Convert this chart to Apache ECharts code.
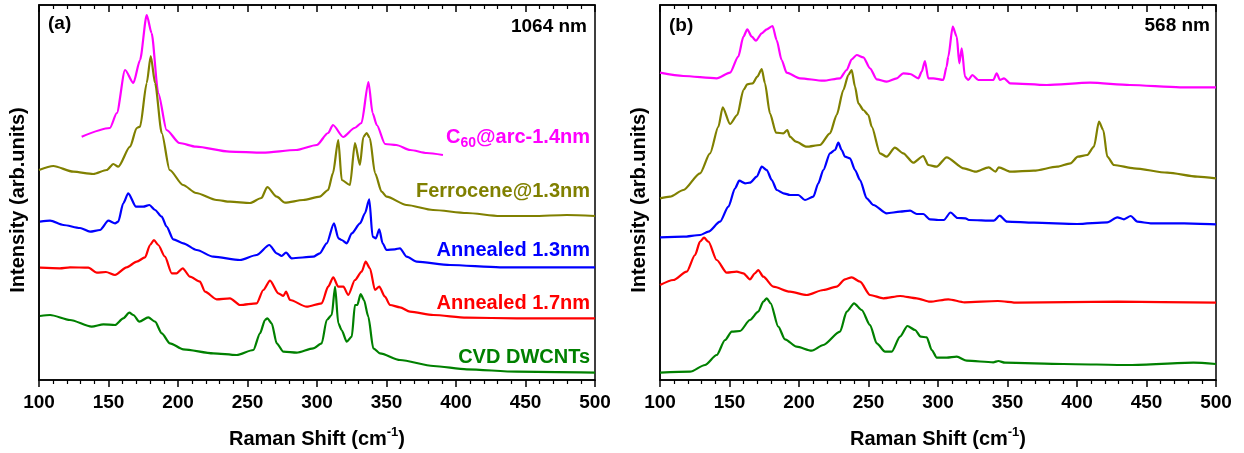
<!DOCTYPE html>
<html>
<head>
<meta charset="utf-8">
<script src="https://cdn.jsdelivr.net/npm/echarts@6/dist/echarts.min.js"></script>
<style>
html,body{margin:0;padding:0;background:#fff;overflow:hidden;}
#chart{width:1244px;height:453px;}
</style>
</head>
<body>
<div id="chart"></div>
<script>
// Raman shift (cm^-1) vs. offset intensity (arb. units)
const xTicks = [100, 150, 200, 250, 300, 350, 400, 450, 500];

// Panel (a) 1064 nm
const a_C60 = [[130.7,243.3],[151,252],[156,267],[161.9,310],[167.9,297],[172.7,320],[177.5,365],[181,347],[185.8,287],[191.8,250],[201,237],[213,233.3],[237,228.3],[261,227.3],[285,230],[299.8,235],[308,247],[311.5,255],[318.8,243],[327,252],[332,257],[337,298],[340,267],[343,255],[349,236],[357,235],[367,230],[379,227],[390.6,225]];
const a_Ferro = [[100,210],[110.3,214],[124.7,208.3],[139,206],[148.7,210],[153.5,216],[157,213.3],[165.5,233.3],[170.3,252],[172.7,253.3],[177.5,297],[180.4,324],[183.5,297],[188.3,247],[194,210],[203.6,195],[213,187],[227.8,180],[237.4,178.3],[251.8,177],[260,182],[264.2,193],[271,183.3],[277,177.3],[290,180],[302,183.3],[308,190],[311.5,207],[315.3,240],[317.8,200],[323.7,195],[327.3,237],[330.9,215],[333.3,243],[335.7,247],[338,242],[341.7,207],[346.5,188.3],[350,183.3],[364.5,175],[383.5,170],[407.7,167],[431.6,164],[455.4,164],[479.6,165],[500,164]];
const a_Ann13 = [[100.7,158.3],[108,159.3],[117.5,155],[129.5,152],[136.7,148.3],[143.9,150],[149.9,159.3],[154.7,156.7],[157,158.3],[160.6,176.7],[164.2,186.7],[169.8,173.3],[175,173.3],[179.4,175],[183.5,170],[188.3,163.3],[191.8,153.3],[196.6,140.7],[203.8,136.7],[213.4,130],[225.4,123.3],[244.6,120],[256.6,125],[265.7,135],[271,126.7],[274.6,124],[277.7,127.3],[281.8,121.7],[297.3,123.3],[302,126.7],[307,136.7],[312.2,156.7],[315.4,141.7],[317.7,140],[321.4,136.7],[325,146.7],[331,156.7],[334.5,166.7],[337.6,180.7],[340,143.3],[342.4,141.7],[344.8,150.7],[347.2,136.7],[350,130],[356,130.7],[359.7,131.7],[364.5,123.3],[371.7,118.3],[395.7,115],[431.6,112.7],[467.6,112.7],[500,112.7]];
const a_Ann17 = [[100.7,112.3],[115,111.7],[122.3,112.7],[135.5,112.3],[141.5,107.3],[148.2,108],[154.7,105],[163,112.7],[170.3,118.3],[176.3,122.7],[179.9,135],[182.7,140],[185.8,135],[190.6,123.3],[195.5,106.7],[199,106.7],[203.4,111.7],[208.6,103.3],[215.8,98.3],[219.4,88.3],[227.8,80.7],[237.4,81.7],[244.6,75],[256.6,76.7],[261.4,90],[266.2,99.3],[272.2,86.7],[275.8,84],[277.7,88.3],[280.6,80],[292.6,73.3],[303.4,76.7],[308,93.3],[311.7,102.7],[315.3,93.3],[319,93.3],[322.5,85],[327.3,100],[332.1,108.3],[335,118.3],[338.1,111.7],[341.7,90],[344.8,93.3],[348.9,83.3],[352.5,75],[359.7,72.7],[366.9,68.3],[383.7,65],[407.7,62.3],[443.7,61.7],[500,61.7]];
const a_CVD = [[100.7,64],[108,65],[122.3,60],[137.9,53.3],[146.3,55.7],[154.7,55],[160.6,61.7],[165,67.3],[167.9,65],[172.2,58.3],[178.6,62.7],[183.5,58.3],[188.3,46.7],[194.2,36.7],[203.8,30.7],[225.4,26.7],[242.2,25],[254.2,30],[259,46.7],[262.6,60],[264.3,61.7],[267.4,56.7],[271,36.7],[275.8,28.3],[285.4,27.3],[297.3,31.7],[303.4,36.7],[307,60],[310.6,65],[313,93.3],[315.3,56.7],[317.7,50],[321.4,38.3],[325,43.3],[327.3,75],[329,75],[331.4,86],[333.8,80],[336.9,63.3],[340.5,31.7],[345.3,26.7],[359.7,20],[383.7,14],[407.7,10.7],[443.7,8.3],[500,7.3]];

// Panel (b) 568 nm
const b_C60 = [[100,307.3],[116.8,304],[140.8,301.7],[150.4,307.3],[156.3,323.3],[160,343.3],[162.8,350.7],[166,343.3],[169,339.3],[173.2,346.7],[176.8,350.7],[181,354],[183.9,340],[187.5,320],[191.1,307.3],[200.7,301.7],[217.5,299.3],[229.5,301.7],[234.3,310],[237.9,320.7],[241.5,325],[246.3,322.7],[251.1,311.7],[255.9,300.7],[263.1,298.3],[270.3,301.7],[275,306.7],[279.9,306],[285.9,301.7],[288.3,308.3],[290.6,319],[293,301.7],[296.6,301.7],[303.8,300],[306.2,313.3],[307.4,323.3],[310.6,353.3],[313.5,343.3],[315.3,316.7],[317.1,331.7],[319.4,303.3],[321.8,300],[324.7,305],[329,300],[339.8,300],[342.2,306.7],[344.6,300],[347.5,301.7],[351.8,296.7],[378.2,295],[409.4,297.3],[438.1,295],[474.1,292.7],[500,292.7]];
const b_Ferro = [[100,181.7],[107.2,183.3],[116.8,190],[128.8,206.7],[136,226.7],[142,253.3],[145.1,272.7],[150.4,256],[155.6,265],[160,290],[162.8,295.7],[166.7,296.7],[170,303.3],[173.2,311],[175.5,296.7],[179.1,266.7],[183.5,247.3],[188.7,246.7],[191.6,250],[193.5,243.3],[197.8,238.3],[205.5,233.3],[215.1,235],[222.3,246.7],[227.1,265],[231.9,290],[235.5,305],[237.9,310],[240.3,293.3],[242.7,276.7],[246.3,270],[249.9,265],[252.3,253.3],[258.3,226.7],[263.1,223.3],[269,232.3],[275,226.7],[282.2,217.3],[289.4,224],[293,215],[299,213.3],[306.2,222.7],[318.6,211.7],[327,208.3],[336.5,212.7],[341.4,208.3],[343.7,212.7],[352.2,208.3],[368.9,209.3],[385.7,213.3],[395.3,216.7],[400.6,223.3],[407.3,225],[412.2,233.3],[415.8,258.3],[418.9,250],[421.8,223.3],[426.6,215],[441,211.7],[465,207.3],[486.6,203.3],[500,201.7]];
const b_Ann13 = [[100,142.7],[116.8,143.3],[128.8,145],[134.8,148.3],[143.2,158.3],[149.2,173.3],[154,191.7],[157,199.3],[161.2,196.7],[164.7,197.3],[169.6,203.3],[173.2,213.3],[176.8,210],[180.4,200],[184,190],[188.8,186.7],[193.5,185],[199.5,185],[204.3,180],[210.3,183.3],[213.9,196.7],[217.5,210],[222.3,226.7],[225.9,230],[228.3,237.3],[230.7,230],[233.1,223.3],[236.7,221.7],[240.3,210],[243.9,200],[248.7,181.7],[253.5,175],[263.1,166.7],[272.7,168.3],[279.9,169.3],[284.7,166],[289.4,166],[294.2,160.7],[300.2,160],[304.2,160],[309,167.5],[314,162],[319.8,161.7],[322.2,160],[340.2,159.3],[344.3,164.3],[349.7,158.3],[368.9,157.3],[400.1,156],[421.8,157.7],[429,162.7],[433.8,160.7],[438.6,164],[443.4,158.3],[453,156.7],[477,156.7],[500,155.7]];
const b_Ann17 = [[100,95],[109.6,100],[119.2,108.3],[125.2,125],[128.8,138.3],[131.7,142.3],[134.8,138.3],[140.8,120],[148,107.3],[155.2,108.3],[160,106.7],[164.7,100.7],[168.3,106.7],[170.7,110],[174.3,103.3],[181.5,93.3],[193.5,88.3],[205.5,85],[217.5,90],[227.1,93.3],[233.1,100.7],[237.9,102.7],[243.9,98.3],[251.1,85],[260.7,81.7],[272.7,84],[284.7,81.7],[294.2,78.3],[307.4,80.7],[319,77.7],[343,79],[357.4,77.3],[429.3,78.3],[500,77.3]];
const b_CVD = [[100,7.3],[121.6,8.3],[132.4,15],[140.8,25],[146.8,40],[151.6,48.3],[157.6,49],[164.7,60],[170.7,68.3],[174.3,78.3],[176.8,81.7],[179.6,76.7],[185.1,53.3],[189.9,40.7],[198.3,33.3],[209.1,29.3],[217.5,35],[229.5,48.3],[234.3,68.3],[239.6,76.7],[245.1,70],[251.1,55],[255.9,36.7],[261.9,28.3],[266.7,28.3],[272.7,43.3],[278,54],[283.5,50],[287.6,43.3],[291.9,42.7],[295.5,30],[299.1,22.3],[306.3,22.3],[313.5,23.3],[320.7,19.3],[339.8,17.7],[343.4,19],[348.2,17.3],[390.2,16],[438.1,15],[483.7,17.3],[500,16]];

const seriesNames = ['C60@arc-1.4nm', 'Ferrocene@1.3nm', 'Annealed 1.3nm', 'Annealed 1.7nm', 'CVD DWCNTs'];
const colors = ['#FF00FF', '#808000', '#0000FF', '#FF0000', '#008000'];
const panelA = [a_C60, a_Ferro, a_Ann13, a_Ann17, a_CVD];
const panelB = [b_C60, b_Ferro, b_Ann13, b_Ann17, b_CVD];

const FONT = '"Liberation Sans", Arial, sans-serif';

const chart = echarts.init(document.getElementById('chart'), null, {renderer: 'canvas'});

function bottomAxis(gi) {
  return {
    type: 'value', gridIndex: gi, position: 'bottom', min: 100, max: 500, interval: 50,
    axisLine: {show: true, lineStyle: {color: '#000', width: 1.5}},
    axisTick: {show: true, inside: false, length: 7, lineStyle: {color: '#000', width: 1.5}},
    minorTick: {show: true, splitNumber: 5, length: 4, lineStyle: {color: '#000', width: 1.2}},
    splitLine: {show: false},
    axisLabel: {show: true, margin: 13, color: '#000', fontSize: 19, fontWeight: 'bold', fontFamily: FONT,
      formatter: v => xTicks.indexOf(v) >= 0 ? String(v) : ''},
    name: '{a|Raman Shift (cm}{s|-1}{a|)}',
    nameLocation: 'middle', nameGap: 46,
    nameTextStyle: {
      rich: {
        a: {fontSize: 20, fontWeight: 'bold', fontFamily: FONT, color: '#000', lineHeight: 26, verticalAlign: 'middle'},
        s: {fontSize: 13, fontWeight: 'bold', fontFamily: FONT, color: '#000', lineHeight: 26, verticalAlign: 'top'}
      }
    }
  };
}
function topAxis(gi) {
  return {
    type: 'value', gridIndex: gi, position: 'top', min: 100, max: 500, interval: 50,
    axisLine: {show: true, lineStyle: {color: '#000', width: 1.5}},
    axisTick: {show: true, inside: true, length: 7, lineStyle: {color: '#000', width: 1.5}},
    minorTick: {show: true, splitNumber: 5, length: 4, lineStyle: {color: '#000', width: 1.2}},
    splitLine: {show: false},
    axisLabel: {show: false}
  };
}
function yAxis(gi) {
  return {
    type: 'value', gridIndex: gi, min: 0, max: 375,
    axisLine: {show: true, lineStyle: {color: '#000', width: 1.5}},
    axisTick: {show: false}, axisLabel: {show: false}, splitLine: {show: false}
  };
}

const series = [];
[panelA, panelB].forEach((panel, gi) => {
  panel.forEach((data, i) => {
    series.push({
      type: 'line', name: seriesNames[i], xAxisIndex: gi * 2, yAxisIndex: gi,
      data: data, showSymbol: false, symbol: 'none', smooth: 0.25, smoothMonotone: 'x',
      lineStyle: {color: colors[i], width: 2.2}, itemStyle: {color: colors[i]},
      silent: true, z: 3
    });
  });
});

function txt(x, y, text, color, align, size) {
  return {type: 'text', x: x, y: y, z: 10, silent: true,
    style: {text: text, fill: color, font: 'bold ' + (size || 20) + 'px ' + FONT,
      textAlign: align || 'right', textVerticalAlign: 'middle'}};
}

const graphic = [
  txt(48, 24, '(a)', '#000', 'left', 19),
  txt(587, 27, '1064 nm', '#000', 'right', 19),
  {type: 'text', x: 590, y: 137, z: 10, silent: true,
    style: {text: '{a|C}{s|60}{a|@arc-1.4nm}', textAlign: 'right', textVerticalAlign: 'middle',
      rich: {
        a: {fontSize: 20, fontWeight: 'bold', fontFamily: FONT, fill: colors[0], lineHeight: 26, verticalAlign: 'middle'},
        s: {fontSize: 14, fontWeight: 'bold', fontFamily: FONT, fill: colors[0], lineHeight: 26, verticalAlign: 'bottom'}
      }}},
  txt(590, 191, 'Ferrocene@1.3nm', colors[1]),
  txt(590, 250, 'Annealed 1.3nm', colors[2]),
  txt(590, 303, 'Annealed 1.7nm', colors[3]),
  txt(590, 357, 'CVD DWCNTs', colors[4]),
  txt(669, 26, '(b)', '#000', 'left', 19),
  txt(1210, 26, '568 nm', '#000', 'right', 19),
  {type: 'text', x: 18, y: 200, rotation: Math.PI / 2, z: 10, silent: true,
    style: {text: 'Intensity (arb.units)', fill: '#000', font: 'bold 20px ' + FONT, textAlign: 'center', textVerticalAlign: 'middle'}},
  {type: 'text', x: 639, y: 200, rotation: Math.PI / 2, z: 10, silent: true,
    style: {text: 'Intensity (arb.units)', fill: '#000', font: 'bold 20px ' + FONT, textAlign: 'center', textVerticalAlign: 'middle'}}
];

chart.setOption({
  animation: false,
  backgroundColor: '#fff',
  grid: [
    {left: 39, right: 649, top: 5, bottom: 73, show: true, borderColor: '#000', borderWidth: 1.5, containLabel: false, outerBoundsMode: 'none'},
    {left: 660, right: 28, top: 5, bottom: 73, show: true, borderColor: '#000', borderWidth: 1.5, containLabel: false, outerBoundsMode: 'none'}
  ],
  xAxis: [bottomAxis(0), topAxis(0), bottomAxis(1), topAxis(1)],
  yAxis: [yAxis(0), yAxis(1)],
  series: series,
  graphic: graphic
});
</script>
</body>
</html>
